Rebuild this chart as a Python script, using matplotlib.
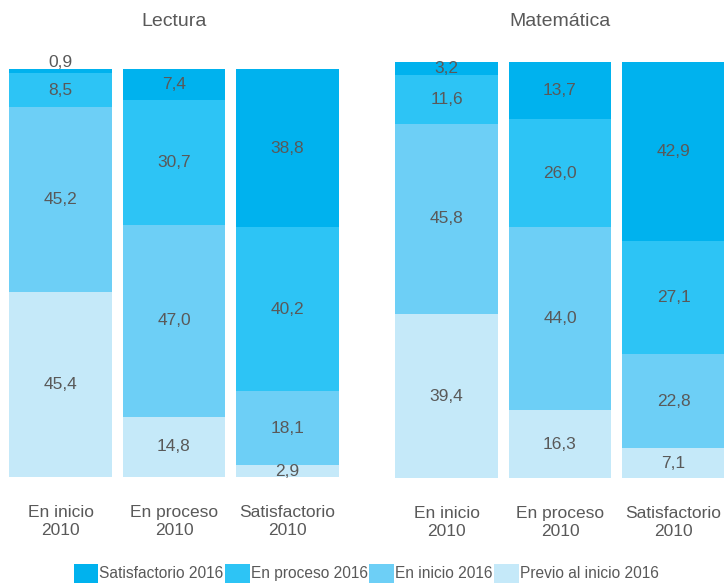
import matplotlib
matplotlib.use("Agg")
import matplotlib.pyplot as plt
from matplotlib.patches import Patch

plt.rcParams['font.family'] = ['Liberation Sans', 'DejaVu Sans']

categories = ["En inicio\n2010", "En proceso\n2010", "Satisfactorio\n2010"]
series_names = ["Previo al inicio 2016", "En inicio 2016", "En proceso 2016", "Satisfactorio 2016"]
colors = ["#C5E9F9", "#6DCFF6", "#2DC4F5", "#00B2EE"]

# values per series (bottom to top), per category
lectura = {
    "Previo al inicio 2016": [45.4, 14.8, 2.9],
    "En inicio 2016": [45.2, 47.0, 18.1],
    "En proceso 2016": [8.5, 30.7, 40.2],
    "Satisfactorio 2016": [0.9, 7.4, 38.8],
}
matematica = {
    "Previo al inicio 2016": [39.4, 16.3, 7.1],
    "En inicio 2016": [45.8, 44.0, 22.8],
    "En proceso 2016": [11.6, 26.0, 27.1],
    "Satisfactorio 2016": [3.2, 13.7, 42.9],
}

W, H = 724, 583
fig = plt.figure(figsize=(W / 100, H / 100), dpi=100)

text_color = "#595959"

def panel(rect, data):
    ax = fig.add_axes(rect)
    x = list(range(len(categories)))
    bottoms = [0.0] * len(categories)
    for name, col in zip(series_names, colors):
        vals = data[name]
        ax.bar(x, vals, bottom=bottoms, width=0.907, color=col, edgecolor='none')
        for i, v in enumerate(vals):
            lab = f"{v:.1f}".replace('.', ',')
            if v < 2:
                ax.text(x[i], bottoms[i] + v - 0.3, lab,
                        ha='center', va='bottom', fontsize=12.5, color=text_color)
            else:
                ax.text(x[i], bottoms[i] + v / 2, lab,
                        ha='center', va='center', fontsize=12.5, color=text_color)
        bottoms = [b + v for b, v in zip(bottoms, vals)]
    ax.set_xlim(-0.5, 2.5)
    ax.set_ylim(0, 100)
    ax.set_xticks(x)
    ax.set_xticklabels(categories, fontsize=12.5, color=text_color, linespacing=1.25)
    ax.tick_params(axis='x', length=0, pad=20)
    ax.set_yticks([])
    for s in ax.spines.values():
        s.set_visible(False)
    ax.patch.set_visible(False)
    return ax

# Lectura: bars x 9..339, y 69..477
ax1 = panel([3.75 / W, (H - 477) / H, 340.5 / W, 408 / H], lectura)
# Matematica: bars x 395..725, y 62..478
ax2 = panel([389.75 / W, (H - 478) / H, 340.5 / W, 416 / H], matematica)

fig.text(174 / W, 1 - 21 / H, "Lectura", ha='center', va='center', fontsize=14, color=text_color)
fig.text(560 / W, 1 - 21 / H, "Matemática", ha='center', va='center', fontsize=14, color=text_color)

handles = [Patch(facecolor=c, edgecolor='none', label=n)
           for n, c in zip(series_names[::-1], colors[::-1])]
fig.legend(handles=handles, loc='lower center', bbox_to_anchor=(366 / W, 0.0), ncol=4,
           frameon=False, fontsize=11.2, handlelength=1.6, handleheight=1.55,
           handletextpad=0.05, columnspacing=0.1, borderpad=0, borderaxespad=0,
           labelcolor=text_color)

fig.savefig("out.png", dpi=100)
